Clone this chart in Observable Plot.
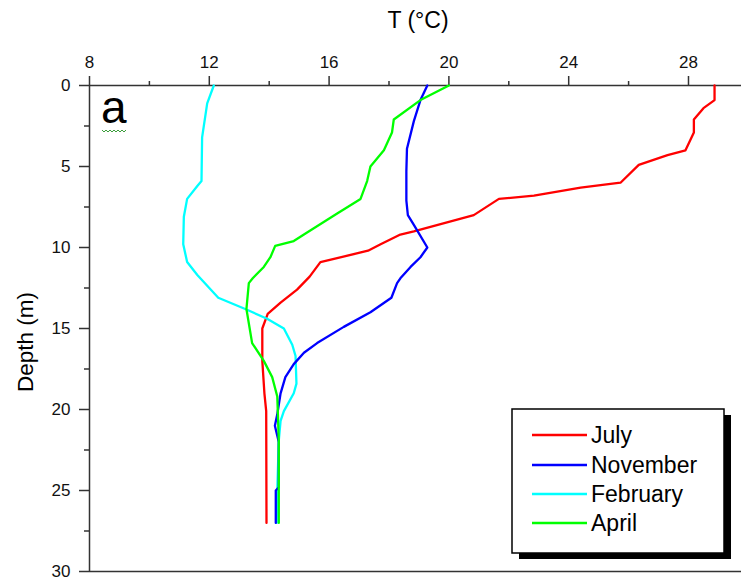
<!DOCTYPE html>
<html>
<head>
<meta charset="utf-8">
<script src="https://cdn.jsdelivr.net/npm/d3@7"></script>
<script src="https://cdn.jsdelivr.net/npm/@observablehq/plot@0.6"></script>
<style>
  html, body { margin: 0; padding: 0; background: #fff; }
  #chart { width: 741px; height: 579px; }
  #chart svg g[aria-label$="tick label"] { font-size: 17px; fill: #111; }
</style>
</head>
<body>
<div id="chart"></div>
<script>
// ---- data ----
const months = ["July", "November", "February", "April"];
const monthColors = ["#ff0000", "#0000ff", "#00ffff", "#00ff00"];

const julyDepth = [0, 0.9, 1.4, 2.1, 2.9, 4.0, 4.3, 4.9, 6.0, 6.3, 6.8, 7.0, 8.0, 9.0, 9.2, 9.8, 10.2, 10.9, 11.8, 12.6, 13.4, 14.1, 15.0, 17.0, 19.0, 20.1, 27.0];
const julyTemp  = [28.87, 28.87, 28.5, 28.18, 28.18, 27.9, 27.3, 26.34, 25.73, 24.4, 22.84, 21.67, 20.83, 18.83, 18.38, 17.72, 17.3, 15.71, 15.35, 14.93, 14.38, 13.95, 13.77, 13.77, 13.84, 13.9, 13.91];

const novDepth = [0, 0.9, 2.2, 3.9, 5.3, 7.1, 8.0, 8.6, 10.0, 10.6, 11.2, 11.9, 12.2, 13.1, 14.0, 14.9, 15.9, 16.5, 17.2, 18.0, 19.0, 20.3, 21.0, 22.0, 24.8, 25.0, 27.0];
const novTemp  = [19.28, 19.05, 18.83, 18.6, 18.58, 18.58, 18.63, 18.83, 19.28, 19.05, 18.72, 18.38, 18.27, 18.08, 17.38, 16.49, 15.6, 15.16, 14.82, 14.54, 14.38, 14.27, 14.19, 14.32, 14.32, 14.22, 14.22];

const febDepth = [0, 1.1, 3.2, 5.9, 6.2, 7.0, 8.1, 9.8, 10.9, 11.7, 13.1, 13.8, 14.4, 15.0, 16.0, 16.7, 18.4, 19.0, 20.1, 20.7, 21.9, 25.0, 27.0];
const febTemp  = [12.15, 11.93, 11.76, 11.74, 11.6, 11.26, 11.15, 11.13, 11.26, 11.6, 12.3, 13.2, 13.93, 14.49, 14.77, 14.88, 14.91, 14.82, 14.49, 14.38, 14.32, 14.27, 14.25];

const aprDepth = [0, 0.9, 2.1, 2.9, 4.0, 5.0, 5.9, 7.0, 7.9, 9.2, 9.6, 9.9, 10.6, 11.2, 11.9, 12.2, 13.8, 15.9, 17.0, 18.0, 19.2, 21.9, 27.0];
const aprTemp  = [20.0, 19.05, 18.16, 18.1, 17.83, 17.38, 17.27, 17.05, 16.27, 15.16, 14.82, 14.2, 14.04, 13.82, 13.45, 13.32, 13.24, 13.43, 13.82, 14.1, 14.27, 14.32, 14.32];

const xTicks = [8, 12, 16, 20, 24, 28];
const xMinorTicks = [10, 14, 18, 22, 26];
const yTicks = [0, 5, 10, 15, 20, 25, 30];
const yMinorTicks = [2.5, 7.5, 12.5, 17.5, 22.5, 27.5];

const titleText = "T (°C)";
const yLabelText = "Depth (m)";
const panelLabel = "a";

// ---- build table ----
function series(name, depth, temp) {
  return depth.map((d, i) => ({month: name, depth: d, temp: temp[i]}));
}
// drawing order: July, February, November, April
const rows = [
  ...series("July", julyDepth, julyTemp),
  ...series("February", febDepth, febTemp),
  ...series("November", novDepth, novTemp),
  ...series("April", aprDepth, aprTemp)
];

const W = 741, H = 579;
const axisColor = "#333";
const font = "'Liberation Sans', Arial, sans-serif";

const plot = Plot.plot({
  width: W,
  height: H,
  marginLeft: 89,
  marginRight: 0,
  marginTop: 85,
  marginBottom: 8,
  style: {fontFamily: font, fontSize: "17px", color: "#000", background: "#fff", overflow: "visible"},
  x: {domain: [8, 29.77]},
  y: {domain: [0, 30], reverse: true},
  color: {domain: months, range: monthColors},
  marks: [
    Plot.axisX({anchor: "top", ticks: xTicks, tickSize: 10, tickPadding: 8, label: null, stroke: axisColor, strokeWidth: 1.5}),
    Plot.axisX({anchor: "top", ticks: xMinorTicks, tickSize: 5, tickFormat: () => "", label: null, stroke: axisColor, strokeWidth: 1.5}),
    Plot.axisY({anchor: "left", ticks: yTicks, tickSize: 10, tickPadding: 9, label: null, stroke: axisColor, strokeWidth: 1.5}),
    Plot.axisY({anchor: "left", ticks: yMinorTicks, tickSize: 5, tickFormat: () => "", label: null, stroke: axisColor, strokeWidth: 1.5}),
    Plot.ruleY([0], {stroke: axisColor, strokeWidth: 1.5}),
    Plot.ruleY([30], {stroke: axisColor, strokeWidth: 1.5}),
    Plot.ruleX([8], {stroke: axisColor, strokeWidth: 1.5}),
    Plot.line(rows, {x: "temp", y: "depth", z: "month", stroke: "month", strokeWidth: 2.3, curve: "linear", strokeLinejoin: "round"})
  ]
});

document.getElementById("chart").appendChild(plot);

// ---- annotations: title, y label, panel label, legend ----
const svg = d3.select(plot);

svg.append("text")
  .attr("x", 418).attr("y", 28)
  .attr("text-anchor", "middle")
  .attr("font-family", font).attr("font-size", 23).attr("fill", "#000")
  .text(titleText);

svg.append("text")
  .attr("transform", "translate(33,342) rotate(-90)")
  .attr("text-anchor", "middle")
  .attr("font-family", font).attr("font-size", 22.5).attr("fill", "#000")
  .text(yLabelText);

svg.append("text")
  .attr("x", 101).attr("y", 123)
  .attr("text-anchor", "start")
  .attr("font-family", font).attr("font-size", 46).attr("fill", "#000")
  .text(panelLabel);

// little wavy underline under the panel letter
let wave = "M102,130";
for (let i = 0; i < 6; i++) wave += " l2,2 l2,-2";
svg.append("path").attr("d", wave).attr("fill", "none").attr("stroke", "#3c9e3c").attr("stroke-width", 1);

// legend
const lg = svg.append("g");
lg.append("rect").attr("x", 519).attr("y", 415).attr("width", 212).attr("height", 144).attr("fill", "#000");
lg.append("rect").attr("x", 512).attr("y", 409).attr("width", 212).attr("height", 144)
  .attr("fill", "#fff").attr("stroke", "#000").attr("stroke-width", 1.5);
const rowY = [435, 465, 494, 523];
months.forEach((m, i) => {
  lg.append("line").attr("x1", 532).attr("x2", 587).attr("y1", rowY[i]).attr("y2", rowY[i])
    .attr("stroke", monthColors[i]).attr("stroke-width", 2.5);
  lg.append("text").attr("x", 591).attr("y", rowY[i] + 8)
    .attr("text-anchor", "start")
    .attr("font-family", font).attr("font-size", 23).attr("fill", "#000")
    .text(m);
});
</script>
</body>
</html>
